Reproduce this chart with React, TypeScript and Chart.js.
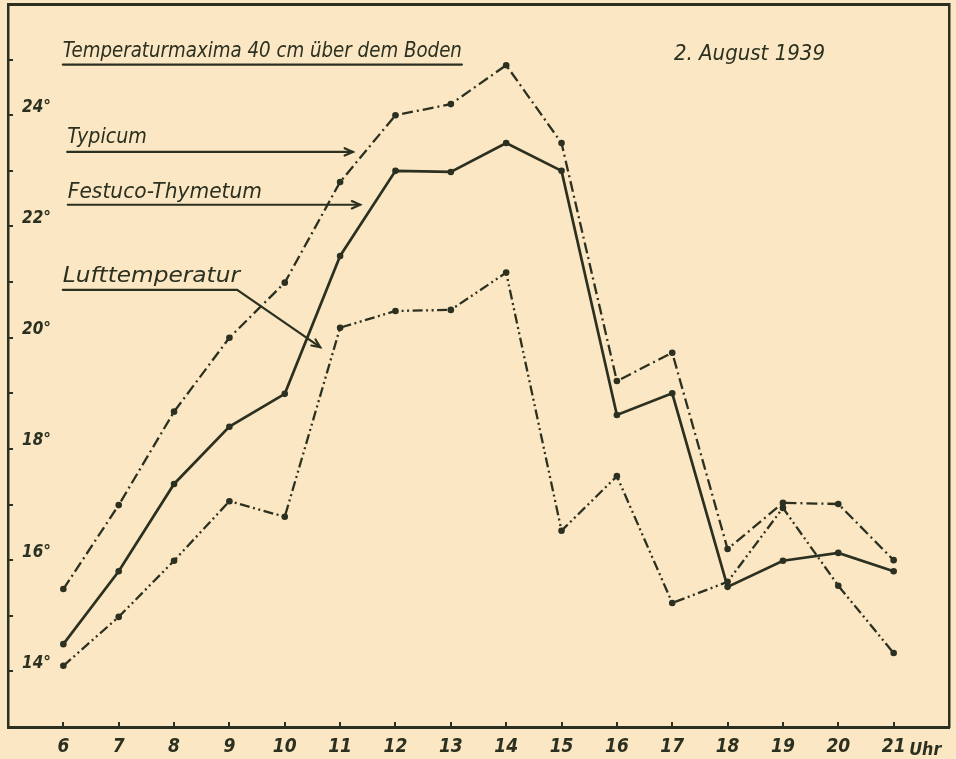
import React, { useEffect, useRef } from "react";
import { Chart, registerables } from "chart.js";

Chart.register(...registerables);

// ---------- data ----------
const hours = [6, 7, 8, 9, 10, 11, 12, 13, 14, 15, 16, 17, 18, 19, 20, 21];
const typicum = [15.48, 16.99, 18.67, 20.0, 20.99, 22.8, 24.0, 24.2, 24.9, 23.5, 19.22, 19.73, 16.2, 17.03, 17.01, 16.0];
const festucoThymetum = [14.49, 15.8, 17.37, 18.4, 18.99, 21.47, 23.0, 22.98, 23.5, 23.0, 18.61, 19.0, 15.52, 15.99, 16.13, 15.8];
const lufttemperatur = [14.1, 14.98, 15.99, 17.06, 16.78, 20.18, 20.48, 20.5, 21.17, 16.53, 17.51, 15.23, 15.61, 16.94, 15.54, 14.33];
const seriesNames = ["Typicum", "Festuco-Thymetum", "Lufttemperatur"];
const yLabelValues = [14, 16, 18, 20, 22, 24];
const titleText = "Temperaturmaxima 40 cm über dem Boden";
const dateText = "2. August 1939";
const unitText = "Uhr";

// ---------- style ----------
const INK = "#2b3020";
const PAPER = "#fbe7c3";
const HAND = "'DejaVu Sans Condensed', 'Liberation Sans Narrow', 'DejaVu Sans', sans-serif";

// annotation placement, in data units (hours / degrees)
const titlePos = { x0: 5.99, x1: 13.2, base: 25.05, line: 24.91 };
const datePos = { x0: 17.03, x1: 19.76, base: 25.0 };
const unitPos = { x0: 21.28, x1: 21.86, base: 12.5 };
const legendPos = [
  { x0: 6.07, x1: 7.51, base: 23.5, line: 23.34, tipX: 11.23, tipY: 23.34 },
  { x0: 6.08, x1: 9.59, base: 22.51, line: 22.39, tipX: 11.36, tipY: 22.39 },
  { x0: 5.99, x1: 9.19, base: 21.0, line: 20.86, kneeX: 9.14, tipX: 10.64, tipY: 19.83 },
];

function drawFitted(ctx: CanvasRenderingContext2D, text: string, px0: number, px1: number, base: number, font: string) {
  ctx.font = font;
  const w = ctx.measureText(text).width;
  const sx = (px1 - px0) / w;
  ctx.save();
  ctx.translate(px0, base);
  ctx.scale(sx, 1);
  ctx.fillText(text, 0, 0);
  ctx.restore();
}

function arrowHead(ctx: CanvasRenderingContext2D, tx: number, ty: number, fx: number, fy: number) {
  const a = Math.atan2(ty - fy, tx - fx);
  const L = 9;
  const s = 0.42;
  ctx.beginPath();
  ctx.moveTo(tx - L * Math.cos(a - s), ty - L * Math.sin(a - s));
  ctx.lineTo(tx, ty);
  ctx.lineTo(tx - L * Math.cos(a + s), ty - L * Math.sin(a + s));
  ctx.stroke();
}

const annotations = {
  id: "handAnnotations",
  afterDraw(chart: any) {
    const { ctx } = chart;
    const x = chart.scales.x;
    const y = chart.scales.y;
    const px = (v: number) => x.getPixelForValue(v);
    const py = (v: number) => y.getPixelForValue(v);
    ctx.save();
    ctx.fillStyle = INK;
    ctx.strokeStyle = INK;
    ctx.lineCap = "round";
    ctx.textBaseline = "alphabetic";
    ctx.textAlign = "left";

    // title + underline
    drawFitted(ctx, titleText, px(titlePos.x0), px(titlePos.x1), py(titlePos.base), `italic 22px ${HAND}`);
    ctx.lineWidth = 2.2;
    ctx.beginPath();
    ctx.moveTo(px(titlePos.x0), py(titlePos.line));
    ctx.lineTo(px(titlePos.x1), py(titlePos.line));
    ctx.stroke();

    // date
    drawFitted(ctx, dateText, px(datePos.x0), px(datePos.x1), py(datePos.base), `italic 22px ${HAND}`);

    // legend labels with arrows
    legendPos.forEach((p: any, i: number) => {
      drawFitted(ctx, seriesNames[i], px(p.x0), px(p.x1), py(p.base), `italic 21px ${HAND}`);
      ctx.lineWidth = 2.2;
      ctx.beginPath();
      ctx.moveTo(px(p.x0), py(p.line));
      let fx = px(p.x0);
      let fy = py(p.line);
      if (p.kneeX !== undefined) {
        ctx.lineTo(px(p.kneeX), py(p.line));
        fx = px(p.kneeX);
        fy = py(p.line);
      }
      ctx.lineTo(px(p.tipX), py(p.tipY));
      ctx.stroke();
      arrowHead(ctx, px(p.tipX), py(p.tipY), fx, fy);
    });

    // unit next to last hour
    drawFitted(ctx, unitText, px(unitPos.x0), px(unitPos.x1), py(unitPos.base), `italic bold 18px ${HAND}`);
    ctx.restore();
  },
};

export default function App() {
  const ref = useRef<HTMLCanvasElement>(null);

  useEffect(() => {
    const canvas = ref.current!;
    const pts = (vals: number[]) => hours.map((h, i) => ({ x: h, y: vals[i] }));
    const common = {
      borderColor: INK,
      backgroundColor: INK,
      pointBackgroundColor: INK,
      pointBorderWidth: 0,
      pointRadius: 3.3,
      tension: 0,
      fill: false,
    };
    const noPad = (s: any) => {
      s.paddingTop = 0;
      s.paddingBottom = 0;
      s.paddingLeft = 0;
      s.paddingRight = 0;
    };
    const chart = new Chart(canvas, {
      type: "line",
      data: {
        datasets: [
          { ...common, label: seriesNames[0], data: pts(typicum), borderWidth: 2.3, borderDash: [11, 4, 2, 4] },
          { ...common, label: seriesNames[1], data: pts(festucoThymetum), borderWidth: 2.7 },
          { ...common, label: seriesNames[2], data: pts(lufttemperatur), borderWidth: 2.3, borderDash: [10, 3.5, 2, 3.5, 2, 3.5] },
        ],
      },
      options: {
        responsive: false,
        animation: false,
        events: [],
        layout: { padding: { top: 4, right: 7, left: 0, bottom: 0 } },
        plugins: {
          legend: { display: false },
          title: { display: false },
          tooltip: { enabled: false },
        },
        scales: {
          x: {
            type: "linear",
            position: "bottom",
            min: 5,
            max: 22,
            afterBuildTicks: (s: any) => {
              s.ticks = hours.map((h) => ({ value: h }));
            },
            afterFit: (s: any) => {
              s.height = 32;
              noPad(s);
            },
            ticks: {
              autoSkip: false,
              maxRotation: 0,
              padding: 14,
              color: INK,
              font: { family: HAND, size: 19, style: "italic", weight: "bold" },
              callback: (v: any) => String(v),
            },
            grid: { drawOnChartArea: false, drawTicks: true, tickLength: -5, color: INK, lineWidth: 2 },
            border: { display: true, color: INK, width: 3 },
          },
          y: {
            type: "linear",
            position: "left",
            min: 13,
            max: 26,
            afterBuildTicks: (s: any) => {
              const t: any[] = [];
              for (let v = 14; v <= 25; v++) t.push({ value: v });
              s.ticks = t;
            },
            afterFit: (s: any) => {
              s.width = 8;
              noPad(s);
            },
            ticks: {
              mirror: true,
              autoSkip: false,
              padding: 14,
              labelOffset: -8,
              color: INK,
              font: { family: HAND, size: 17, style: "italic", weight: "bold" },
              callback: (v: any) => (yLabelValues.includes(v) ? `${v}°` : ""),
            },
            grid: { drawOnChartArea: false, drawTicks: true, tickLength: -5, color: INK, lineWidth: 2 },
            border: { display: true, color: INK, width: 2.5 },
          },
          xTop: {
            type: "linear",
            axis: "x",
            position: "top",
            min: 5,
            max: 22,
            ticks: { display: false },
            grid: { display: false, drawTicks: false },
            border: { display: true, color: INK, width: 3 },
            afterFit: (s: any) => {
              s.height = 0;
              noPad(s);
            },
          },
          yRight: {
            type: "linear",
            axis: "y",
            position: "right",
            min: 13,
            max: 26,
            ticks: { display: false },
            grid: { display: false, drawTicks: false },
            border: { display: true, color: INK, width: 2.5 },
            afterFit: (s: any) => {
              s.width = 0;
              noPad(s);
            },
          },
        },
      } as any,
      plugins: [annotations],
    });
    return () => chart.destroy();
  }, []);

  return (
    <div style={{ position: "fixed", left: 0, top: 0, width: 956, height: 759, background: PAPER }}>
      <canvas ref={ref} width={956} height={759} style={{ display: "block", width: 956, height: 759 }} />
    </div>
  );
}
